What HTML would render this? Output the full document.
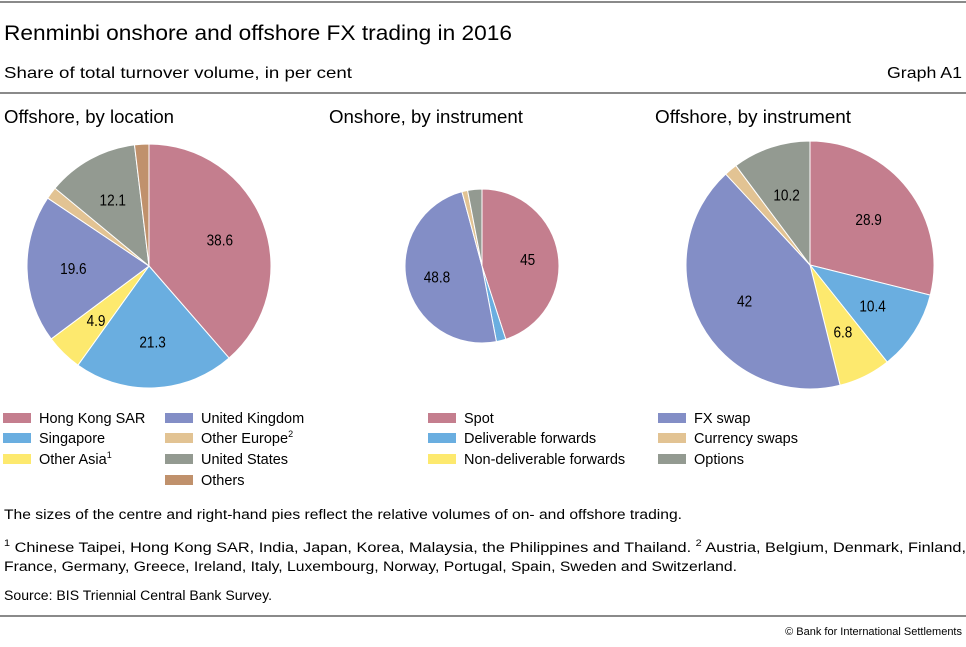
<!DOCTYPE html>
<html><head><meta charset="utf-8"><style>
body{margin:0;width:966px;height:647px;background:#fff;overflow:hidden;font-family:"Liberation Sans",sans-serif;color:#000}
svg{position:absolute;left:0;top:0}
</style></head><body>
<svg width="966" height="647" id="svg">
<line x1="0" y1="2" x2="966" y2="2" stroke="#444" stroke-width="1.3"/>
<text x="4" y="40" font-size="21" textLength="508" lengthAdjust="spacingAndGlyphs">Renminbi onshore and offshore FX trading in 2016</text>
<text x="4" y="78" font-size="16" textLength="348" lengthAdjust="spacingAndGlyphs">Share of total turnover volume, in per cent</text>
<text x="962" y="78" font-size="16" text-anchor="end" textLength="75" lengthAdjust="spacingAndGlyphs">Graph A1</text>
<line x1="0" y1="93" x2="966" y2="93" stroke="#444" stroke-width="1.3"/>
<text x="4" y="123" font-size="18" textLength="170" lengthAdjust="spacingAndGlyphs">Offshore, by location</text>
<text x="329" y="123" font-size="18" textLength="194" lengthAdjust="spacingAndGlyphs">Onshore, by instrument</text>
<text x="655" y="123" font-size="18" textLength="196" lengthAdjust="spacingAndGlyphs">Offshore, by instrument</text>
<g id="pies"></g>
<g id="legends" font-size="14.5"></g>
<text x="4" y="519" font-size="13.5" textLength="678" lengthAdjust="spacingAndGlyphs">The sizes of the centre and right-hand pies reflect the relative volumes of on- and offshore trading.</text>
<text x="4" y="552" font-size="13.5" textLength="962" lengthAdjust="spacingAndGlyphs"><tspan font-size="9" dy="-6">1</tspan><tspan dy="6">  Chinese Taipei, Hong Kong SAR, India, Japan, Korea, Malaysia, the Philippines and Thailand.   </tspan><tspan font-size="9" dy="-6">2</tspan><tspan dy="6">  Austria, Belgium, Denmark, Finland,</tspan></text>
<text x="4" y="571" font-size="13.5" textLength="733" lengthAdjust="spacingAndGlyphs">France, Germany, Greece, Ireland, Italy, Luxembourg, Norway, Portugal, Spain, Sweden and Switzerland.</text>
<text x="4" y="600" font-size="13.5" textLength="268" lengthAdjust="spacingAndGlyphs">Source: BIS Triennial Central Bank Survey.</text>
<line x1="0" y1="616" x2="966" y2="616" stroke="#444" stroke-width="1.3"/>
<text x="962" y="635" font-size="11" text-anchor="end">© Bank for International Settlements</text>
</svg>
<script>
const locCategories=["Hong Kong SAR","Singapore","Other Asia","United Kingdom","Other Europe","United States","Others"];
const locValues=[38.6,21.3,4.9,19.6,1.6,12.1,1.9];
const locLabels=["38.6","21.3","4.9","19.6","","12.1",""];
const instCategories=["Spot","Deliverable forwards","Non-deliverable forwards","FX swap","Currency swaps","Options"];
const onshoreValues=[45,2.0,0,48.8,1.2,3.0];
const onshoreLabels=["45","","","48.8","",""];
const offshoreValues=[28.9,10.4,6.8,42,1.7,10.2];
const offshoreLabels=["28.9","10.4","6.8","42","","10.2"];
const locColors=["#c47e8e","#6aaee0","#fde96e","#838ec6","#e2c393","#939a91","#c0916c"];
const instColors=["#c47e8e","#6aaee0","#fde96e","#838ec6","#e2c393","#939a91"];
const NS="http://www.w3.org/2000/svg";
const pies=document.getElementById('pies');
function pie(vals,labels,cols,cx,cy,r,name,lf){
  const tot=vals.reduce((a,b)=>a+b,0);let a0=0;
  const g=document.createElementNS(NS,'g');
  
  
  pies.appendChild(g);
  vals.forEach((v,i)=>{
    if(v<=0)return;
    const a1=a0+v/tot*2*Math.PI;
    const x0=cx+r*Math.sin(a0),y0=cy-r*Math.cos(a0),x1=cx+r*Math.sin(a1),y1=cy-r*Math.cos(a1);
    const p=document.createElementNS(NS,'path');
    p.setAttribute('d',`M${cx},${cy}L${x0},${y0}A${r},${r} 0 ${a1-a0>Math.PI?1:0} 1 ${x1},${y1}Z`);
    p.setAttribute('fill',cols[i]);p.setAttribute('stroke','#fff');p.setAttribute('stroke-width','1');
    
    
    g.appendChild(p);
    if(labels[i]){
      const am=(a0+a1)/2;const t=document.createElementNS(NS,'text');
      t.setAttribute('x',cx+r*lf*Math.sin(am));t.setAttribute('y',cy-r*lf*Math.cos(am)+6);
      t.setAttribute('text-anchor','middle');t.setAttribute('font-size','16');
      t.setAttribute('transform-origin',`${cx+r*lf*Math.sin(am)} 0`);
      t.setAttribute('transform','scale(0.85,1)');
      t.textContent=labels[i];
      
      
      g.appendChild(t);
    }
    a0=a1;
  });
}
pie(locValues,locLabels,locColors,149,266,122,'pie-offshore-location',0.62);
pie(onshoreValues,onshoreLabels,instColors,482,266,77,'pie-onshore-instrument',0.6);
pie(offshoreValues,offshoreLabels,instColors,810,265,124,'pie-offshore-instrument',0.6);
const leg=document.getElementById('legends');
function legend(cats,cols,positions,sups){
  cats.forEach((c,i)=>{
    const [x,y]=positions[i];
    const g=document.createElementNS(NS,'g');
    
    
    const r=document.createElementNS(NS,'rect');
    r.setAttribute('x',x);r.setAttribute('y',y-5);r.setAttribute('width',28);r.setAttribute('height',10);r.setAttribute('fill',cols[i]);
    g.appendChild(r);
    const t=document.createElementNS(NS,'text');
    t.setAttribute('x',x+36);t.setAttribute('y',y+5);
    t.textContent=c;
    if(sups&&sups[i]){const s=document.createElementNS(NS,'tspan');s.setAttribute('font-size','9');s.setAttribute('dy','-6');s.textContent=sups[i];t.appendChild(s);}
    g.appendChild(t);leg.appendChild(g);
  });
}
legend(locCategories,locColors,[[3,418],[3,438],[3,459],[165,418],[165,438],[165,459],[165,480]],["","","1","","2","",""]);
legend(instCategories,instColors,[[428,418],[428,438],[428,459],[658,418],[658,438],[658,459]],null);
</script>
</body></html>
